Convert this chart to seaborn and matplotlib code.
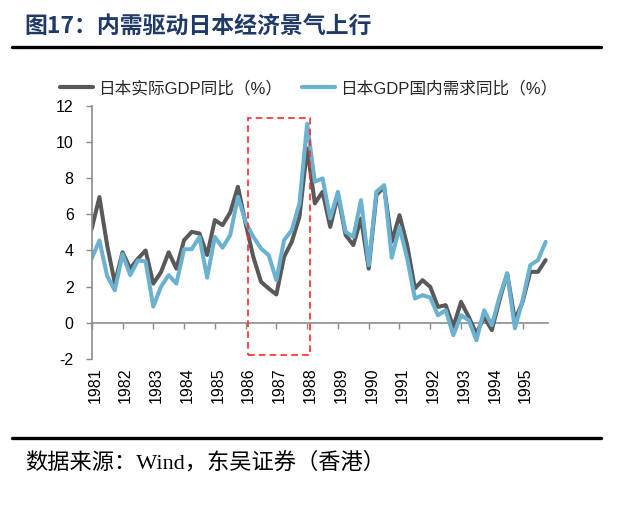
import numpy as np
import pandas as pd
import matplotlib
matplotlib.use("Agg")
import matplotlib.pyplot as plt
from matplotlib.patches import Rectangle
from matplotlib.lines import Line2D
import seaborn as sns

# ---------------- data (quarterly, 1981Q1 - 1995Q4) ----------------
years = list(range(1981, 1996))
quarters = [1981 + i / 4 for i in range(60)]

gdp_real = [5.2, 6.95, 4.3, 2.2,
            3.9, 3.0, 3.55, 4.0,
            2.17, 2.8, 3.9, 3.0,
            4.57, 5.03, 4.94, 3.75,
            5.68, 5.4, 6.1, 7.52,
            5.49, 3.65, 2.27, 1.9,
            1.57, 3.65, 4.48, 5.86,
            9.64, 6.6, 7.24, 5.3,
            7.06, 4.85, 4.3, 5.77,
            3.0, 7.06, 7.52, 4.48,
            5.95, 4.3, 1.9, 2.36,
            1.99, 0.88, 0.98, -0.22,
            1.16, 0.33, -0.6, 0.33,
            -0.4, 1.25, 2.73, 0.15,
            1.16, 2.82, 2.82, 3.47]

gdp_domestic = [3.56, 4.55, 2.6, 1.8,
                3.8, 2.64, 3.45, 3.4,
                0.9, 2.0, 2.64, 2.17,
                4.07, 4.07, 4.75, 2.5,
                4.75, 4.15, 4.85, 6.97,
                5.58, 4.76, 4.11, 3.74,
                2.36, 4.57, 5.12, 6.6,
                11.0, 7.8, 7.98, 5.77,
                7.24, 5.03, 4.75, 6.78,
                3.19, 7.24, 7.61, 3.6,
                5.3, 3.56, 1.35, 1.53,
                1.4, 0.42, 0.7, -0.68,
                0.42, 0.15, -0.96, 0.7,
                -0.13, 1.44, 2.73, -0.3,
                1.25, 3.19, 3.47, 4.48]

series_names = ["日本实际GDP同比（%）", "日本GDP国内需求同比（%）"]
y_ticks = [-2, 0, 2, 4, 6, 8, 10, 12]
title_text = "图17：内需驱动日本经济景气上行"
source_text = "数据来源：Wind，东吴证券（香港）"

# highlighted window (1986 - 1988)
box_x = [1986.07, 1988.09]
box_y = [-1.79, 11.32]

df = pd.DataFrame({
    "t": quarters * 2,
    "v": gdp_real + gdp_domestic,
    "s": [series_names[0]] * 60 + [series_names[1]] * 60,
})

# ---------------- style ----------------
sns.set_style("white")
plt.rcParams["font.family"] = ["Liberation Sans", "Noto Sans CJK SC", "DejaVu Sans"]
plt.rcParams["axes.unicode_minus"] = False

GRAY_AX = "#8c8c8c"
C_REAL = "#595959"
C_DOM = "#6ab2cf"

fig = plt.figure(figsize=(6.37, 5.13), dpi=100)
ax = fig.add_axes([0.144, 0.300, 0.716, 0.494])

sns.lineplot(data=df, x="t", y="v", hue="s", hue_order=series_names,
             palette=[C_REAL, C_DOM], linewidth=2.9, ax=ax, legend=False,
             estimator=None, sort=True)
for ln in ax.lines:
    ln.set_solid_joinstyle("round")
    ln.set_solid_capstyle("round")

ax.set_xlim(1981, 1995.82)
ax.set_ylim(-2, 12)
ax.set_xlabel("")
ax.set_ylabel("")

# y axis
ax.set_yticks(y_ticks)
ax.set_yticklabels([str(v) for v in y_ticks])
for s in ["top", "right", "bottom"]:
    ax.spines[s].set_visible(False)
ax.spines["left"].set_color(GRAY_AX)
ax.spines["left"].set_linewidth(1.2)
ax.tick_params(axis="y", direction="out", length=4, width=1.0, color=GRAY_AX,
               pad=9, labelsize=11.5, labelcolor="black", left=True)

# x labels at bottom
ax.set_xticks([y + 0.1 for y in years])
ax.set_xticklabels([str(y) for y in years], rotation=90)
ax.tick_params(axis="x", length=0, pad=6, labelsize=11.5, labelcolor="black")

# zero axis line with tick marks
sec = ax.secondary_xaxis(2 / 14)
sec.set_xticks(years)
sec.set_xticklabels([])
sec.spines["bottom"].set_color(GRAY_AX)
sec.spines["bottom"].set_linewidth(1.2)
sec.tick_params(axis="x", direction="out", length=4, width=1.0, color=GRAY_AX)

# red dashed box
ax.add_patch(Rectangle((box_x[0], box_y[0]), box_x[1] - box_x[0], box_y[1] - box_y[0],
                       fill=False, ec="#ff2a2a", lw=1.2, ls=(0, (4, 2.5)),
                       clip_on=False, zorder=5))

# legend
handles = [Line2D([], [], color=C_REAL, lw=3.0), Line2D([], [], color=C_DOM, lw=3.0)]
fig.legend(handles, series_names, loc="center left",
           bbox_to_anchor=(0.083, 1 - 88 / 513), frameon=False, ncol=2,
           prop={"family": ["Liberation Sans", "Noto Sans CJK SC"], "size": 12},
           handlelength=2.0, handletextpad=0.3, columnspacing=1.2, borderaxespad=0)

# title and rules
fig.text(0.039, 1 - 26 / 513, title_text, fontsize=16.5, fontweight="bold",
         color="#1f3a68", va="center", ha="left",
         family=["Noto Sans CJK SC", "DejaVu Sans"])
fig.add_artist(Line2D([12 / 637, 601 / 637], [1 - 47 / 513, 1 - 47 / 513],
                      color="black", lw=2.4, transform=fig.transFigure))
fig.add_artist(Line2D([12 / 637, 601 / 637], [1 - 438 / 513, 1 - 438 / 513],
                      color="black", lw=2.4, transform=fig.transFigure))
fig.text(0.039, 1 - 463 / 513, source_text, fontsize=16, color="black",
         va="center", ha="left", family=["Liberation Serif", "Noto Sans CJK SC"])

fig.savefig("out.png", dpi=100)
